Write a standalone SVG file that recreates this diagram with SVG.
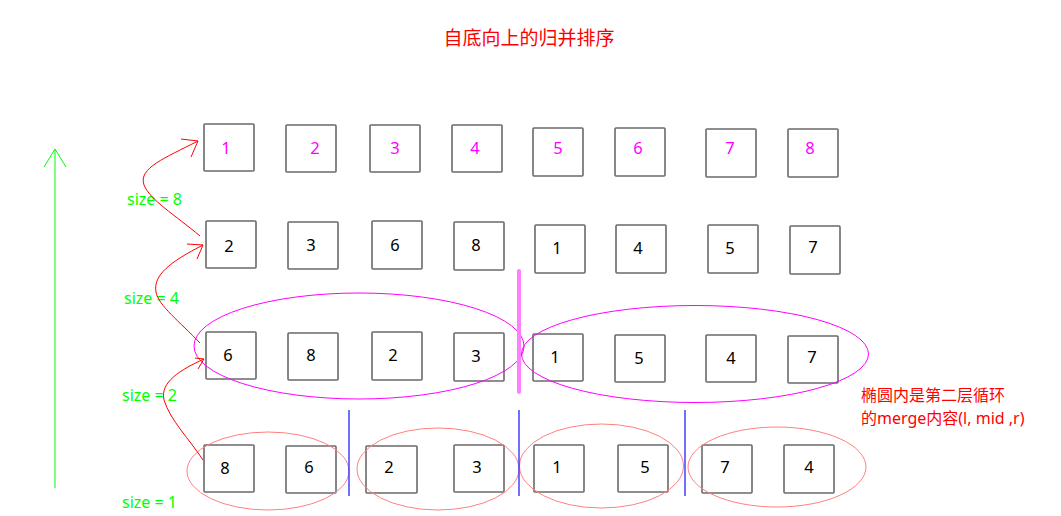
<svg xmlns="http://www.w3.org/2000/svg" width="1061" height="516" viewBox="0 0 1061 516">
<style>
.box{fill:none;stroke:#6a6a6a;stroke-width:1.6}
.n{font-family:"Noto Sans","DejaVu Sans",sans-serif;font-size:16.5px;text-anchor:middle;fill:#000}
.m{fill:#ff00ff}
.sz{font-family:"Noto Sans","DejaVu Sans",sans-serif;font-size:16px;fill:#00ff00}
.red{fill:none;stroke:#ff0000;stroke-width:1}
.lbl{font-family:"Noto Sans","Noto Sans CJK SC",sans-serif;font-size:16px;fill:#ff0000}
.pe{fill:none;stroke:#ff8080;stroke-width:1}
.me{fill:none;stroke:#ff00ff;stroke-width:1}
.bl{stroke:#4040ff;stroke-width:1.5}
</style>
<rect width="1061" height="516" fill="#fff"/>
<text x="529" y="45" style="font-family:'Noto Sans CJK SC','Noto Sans',sans-serif;font-size:19px;fill:#ff0000;text-anchor:middle">自底向上的归并排序</text>

<g id="row8">
<rect class="box" x="204" y="124" width="50" height="47" rx="1"/><text class="n m" x="226" y="154">1</text>
<rect class="box" x="286" y="125" width="50" height="47" rx="1"/><text class="n m" x="315" y="154">2</text>
<rect class="box" x="370" y="125" width="50" height="47" rx="1"/><text class="n m" x="395" y="154">3</text>
<rect class="box" x="452" y="125" width="50" height="47" rx="1"/><text class="n m" x="475" y="154">4</text>
<rect class="box" x="533" y="128" width="50" height="48" rx="1"/><text class="n m" x="558" y="154">5</text>
<rect class="box" x="615" y="128" width="50" height="48" rx="1"/><text class="n m" x="638" y="154">6</text>
<rect class="box" x="706" y="129" width="50" height="48" rx="1"/><text class="n m" x="730" y="154">7</text>
<rect class="box" x="788" y="129" width="50" height="48" rx="1"/><text class="n m" x="810" y="154">8</text>
</g>
<g id="row4">
<rect class="box" x="206" y="221" width="50" height="47" rx="1"/><text class="n" x="229" y="252">2</text>
<rect class="box" x="288" y="222" width="50" height="47" rx="1"/><text class="n" x="311" y="251">3</text>
<rect class="box" x="372" y="221" width="50" height="48" rx="1"/><text class="n" x="395" y="251">6</text>
<rect class="box" x="454" y="222" width="50" height="48" rx="1"/><text class="n" x="476" y="251">8</text>
<rect class="box" x="535" y="225" width="50" height="48" rx="1"/><text class="n" x="557" y="254">1</text>
<rect class="box" x="616" y="225" width="50" height="48" rx="1"/><text class="n" x="638" y="254">4</text>
<rect class="box" x="708" y="225" width="50" height="48" rx="1"/><text class="n" x="730" y="254">5</text>
<rect class="box" x="790" y="226" width="50" height="48" rx="1"/><text class="n" x="813" y="253">7</text>
</g>
<g id="row2">
<rect class="box" x="206" y="332" width="50" height="47" rx="1"/><text class="n" x="228" y="361">6</text>
<rect class="box" x="288" y="333" width="50" height="47" rx="1"/><text class="n" x="311" y="361">8</text>
<rect class="box" x="372" y="332" width="50" height="48" rx="1"/><text class="n" x="393" y="361">2</text>
<rect class="box" x="454" y="333" width="50" height="48" rx="1"/><text class="n" x="476" y="362">3</text>
<rect class="box" x="533" y="334" width="50" height="47" rx="1"/><text class="n" x="555" y="363">1</text>
<rect class="box" x="615" y="335" width="50" height="47" rx="1"/><text class="n" x="639" y="364">5</text>
<rect class="box" x="706" y="335" width="50" height="47" rx="1"/><text class="n" x="731" y="364">4</text>
<rect class="box" x="788" y="336" width="50" height="47" rx="1"/><text class="n" x="812" y="363">7</text>
</g>
<g id="row1">
<rect class="box" x="204" y="445" width="50" height="47" rx="1"/><text class="n" x="225" y="474">8</text>
<rect class="box" x="286" y="446" width="50" height="47" rx="1"/><text class="n" x="309" y="473">6</text>
<rect class="box" x="366" y="446" width="51" height="47" rx="1"/><text class="n" x="389" y="473">2</text>
<rect class="box" x="454" y="445" width="50" height="47" rx="1"/><text class="n" x="477" y="473">3</text>
<rect class="box" x="534" y="445" width="50" height="47" rx="1"/><text class="n" x="557" y="473">1</text>
<rect class="box" x="618" y="445" width="50" height="47" rx="1"/><text class="n" x="645" y="473">5</text>
<rect class="box" x="702" y="445" width="50" height="48" rx="1"/><text class="n" x="725" y="473">7</text>
<rect class="box" x="784" y="445" width="50" height="48" rx="1"/><text class="n" x="809" y="473">4</text>
</g>

<g id="ellipses">
<ellipse class="me" cx="359" cy="346" rx="165" ry="53"/>
<ellipse class="me" cx="695" cy="354" rx="173.5" ry="48.5"/>
<ellipse class="pe" cx="268" cy="471" rx="81" ry="39"/>
<ellipse class="pe" cx="438" cy="469" rx="81" ry="41"/>
<ellipse class="pe" cx="601.5" cy="466" rx="82" ry="42"/>
<ellipse class="pe" cx="777" cy="467" rx="89" ry="40"/>
</g>

<g id="dividers">
<line x1="519" y1="271" x2="519" y2="392" stroke="#ff80ff" stroke-width="4" stroke-linecap="round"/>
<line class="bl" x1="349" y1="410" x2="349" y2="496"/>
<line class="bl" x1="519" y1="410" x2="519" y2="496"/>
<line class="bl" x1="685" y1="410" x2="685" y2="496"/>
</g>

<g id="axis">
<line x1="55" y1="149" x2="55" y2="488" stroke="#00ff00" stroke-width="1"/>
<polyline points="44,167 55,149 66,167" fill="none" stroke="#00ff00" stroke-width="1"/>
<text class="sz" x="127" y="205">size = 8</text>
<text class="sz" x="124" y="304">size = 4</text>
<text class="sz" x="122" y="401">size = 2</text>
<text class="sz" x="122" y="508">size = 1</text>
</g>

<g id="connectors">
<path class="red" d="M200,236 C175,215 150,200 144,185 C138,168 165,158 198,141"/>
<polyline class="red" points="181,139 198,141 191,157"/>
<path class="red" d="M200,343 C180,322 158,305 156,292 C153,275 170,262 203,245"/>
<polyline class="red" points="187,244 203,245 197,259"/>
<path class="red" d="M203,460 C190,440 170,420 164,400 C160,382 180,370 204,359"/>
<polyline class="red" points="195,358 204,359 198,369"/>
</g>

<g id="note">
<text class="lbl" x="861" y="401">椭圆内是第二层循环</text>
<text class="lbl" x="861" y="424">的merge内容(l, mid ,r)</text>
</g>
</svg>
